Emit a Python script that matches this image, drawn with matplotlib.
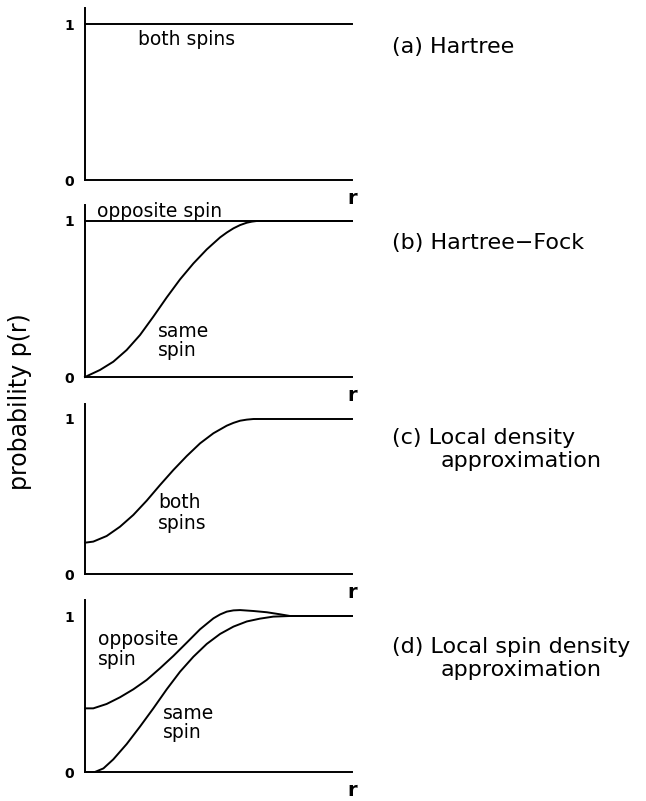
import matplotlib.pyplot as plt

plt.rcParams['font.family'] = ['DejaVu Sans']

W, H = 646, 801   # figure size in pixels (dpi 100)

# ── pair-correlation curves, r scaled to the axis width ─────────────
# (a) Hartree
ha_r    = [0.0, 1.0]
ha_both = [1.0, 1.0]

# (b) Hartree-Fock
hf_r    = [0.0, 0.056, 0.106, 0.156, 0.206, 0.256, 0.306, 0.356,
           0.406, 0.456, 0.506, 0.531, 0.556, 0.581, 0.606, 0.625, 0.643, 1.0]
hf_same = [0.0, 0.045, 0.098, 0.173, 0.269, 0.387, 0.510, 0.626,
           0.728, 0.818, 0.895, 0.926, 0.953, 0.974, 0.989, 0.996, 1.0, 1.0]
hf_opp_r = [0.0, 1.0]
hf_opp   = [1.0, 1.0]

# (c) local density approximation
lda_r    = [0.0, 0.031, 0.081, 0.131, 0.181, 0.231, 0.281, 0.331,
            0.381, 0.431, 0.481, 0.531, 0.556, 0.581, 0.606, 0.631, 1.0]
lda_both = [0.202, 0.209, 0.245, 0.305, 0.381, 0.473, 0.574, 0.671,
            0.761, 0.843, 0.908, 0.957, 0.975, 0.989, 0.996, 1.0, 1.0]

# (d) local spin density approximation
lsd_opp_r = [0.0, 0.031, 0.081, 0.131, 0.181, 0.231, 0.281, 0.331, 0.381,
             0.431, 0.481, 0.506, 0.531, 0.556, 0.581, 0.631, 0.681, 0.730,
             0.768, 1.0]
lsd_opp   = [0.408, 0.408, 0.436, 0.479, 0.530, 0.590, 0.665, 0.744, 0.829,
             0.915, 0.985, 1.010, 1.028, 1.036, 1.038, 1.032, 1.024, 1.011,
             1.0, 1.0]
lsd_same_r = [0.0, 0.037, 0.069, 0.106, 0.156, 0.206, 0.256, 0.306, 0.356,
              0.406, 0.456, 0.506, 0.556, 0.606, 0.655, 0.705, 0.768, 1.0]
lsd_same   = [0.0, 0.0, 0.023, 0.081, 0.179, 0.291, 0.408, 0.530, 0.643,
              0.739, 0.821, 0.885, 0.932, 0.965, 0.983, 0.996, 1.0, 1.0]

PANEL_TITLES = [['(a) Hartree'],
                ['(b) Hartree\u2212Fock'],
                ['(c) Local density', 'approximation'],
                ['(d) Local spin density', 'approximation']]

# panel layout in pixels: y of p=0 and p=1 lines
Y0 = [180, 377, 574, 772]
Y1 = [24, 221, 419, 616]
X0, X1 = 85, 352
YTOP = 1.1

LW = 1.4
FS_IN = 13.5
FS_TITLE = 16

fig = plt.figure(figsize=(W / 100, H / 100), dpi=100)

axes = []
for y0, y1 in zip(Y0, Y1):
    ph = y0 - y1
    ax = fig.add_axes([X0 / W, (H - y0) / H, (X1 - X0) / W, YTOP * ph / H])
    ax.set_xlim(0, 1)
    ax.set_ylim(0, YTOP)
    ax.spines[['top', 'right']].set_visible(False)
    for s in ['left', 'bottom']:
        ax.spines[s].set_linewidth(LW)
    ax.set_xticks([])
    ax.set_yticks([0, 1])
    ax.set_yticklabels(['0', '1'], fontsize=10, fontweight='bold')
    ax.tick_params(axis='y', length=0, pad=8)
    ax.text(1.0, -18 / ph, 'r', ha='center', va='center', fontsize=14,
            fontweight='bold', clip_on=False)
    axes.append(ax)

ax_a, ax_b, ax_c, ax_d = axes

ax_a.plot(ha_r, ha_both, color='k', lw=LW, clip_on=False)
ax_a.text(0.199, 0.865, 'both spins', fontsize=FS_IN, va='baseline')

ax_b.plot(hf_opp_r, hf_opp, color='k', lw=LW, clip_on=False)
ax_b.plot(hf_r, hf_same, color='k', lw=LW, clip_on=False)
ax_b.text(0.045, 1.026, 'opposite spin', fontsize=FS_IN, va='baseline')
ax_b.text(0.273, 0.258, 'same', fontsize=FS_IN, va='baseline')
ax_b.text(0.273, 0.135, 'spin', fontsize=FS_IN, va='baseline')

ax_c.plot(lda_r, lda_both, color='k', lw=LW, clip_on=False)
ax_c.text(0.273, 0.428, 'both', fontsize=FS_IN, va='baseline')
ax_c.text(0.273, 0.290, 'spins', fontsize=FS_IN, va='baseline')

ax_d.plot(lsd_opp_r, lsd_opp, color='k', lw=LW, clip_on=False)
ax_d.plot(lsd_same_r, lsd_same, color='k', lw=LW, clip_on=False)
ax_d.text(0.049, 0.814, 'opposite', fontsize=FS_IN, va='baseline')
ax_d.text(0.049, 0.686, 'spin', fontsize=FS_IN, va='baseline')
ax_d.text(0.292, 0.338, 'same', fontsize=FS_IN, va='baseline')
ax_d.text(0.292, 0.216, 'spin', fontsize=FS_IN, va='baseline')

# method names to the right of each panel (baseline pixel positions)
title_base = [[53], [249], [444, 467], [653, 676]]
for lines, bases in zip(PANEL_TITLES, title_base):
    for i, (txt, yb) in enumerate(zip(lines, bases)):
        xl = 392 if i == 0 else 441
        fig.text(xl / W, 1 - yb / H, txt, fontsize=FS_TITLE, va='baseline')

fig.text(20 / W, 1 - 402 / H, 'probability p(r)', rotation=90,
         ha='center', va='center', fontsize=17)

fig.savefig('out.png', dpi=100)
